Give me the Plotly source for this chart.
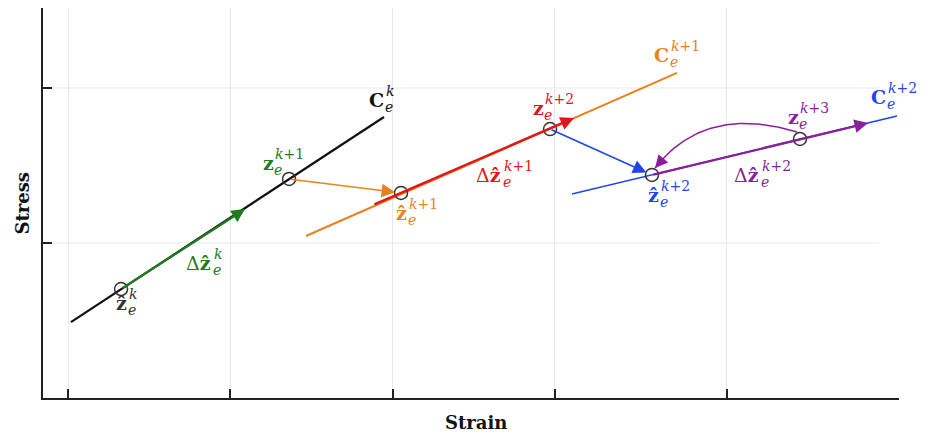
import numpy as np
import plotly.graph_objects as go

# ---------------- data (schematic units) ----------------
# constitutive lines C_e^k, C_e^{k+1}, C_e^{k+2}
line_x0 = [0.018, 1.466, 3.105]
line_y0 = [-0.510, 0.045, 0.316]
line_x1 = [1.947, 3.752, 5.108]
line_y1 = [0.813, 1.097, 0.819]

# state points (circles): zhat^k, z^{k+1}, zhat^{k+1}, z^{k+2}, zhat^{k+2}, z^{k+3}
pt_x = [0.327, 1.362, 2.052, 2.970, 3.598, 4.510]
pt_y = [-0.297, 0.413, 0.323, 0.735, 0.439, 0.671]

# straight arrows: Δẑ^k, projection k+1, Δẑ^{k+1}, projection k+2, Δẑ^{k+2}
arrow_x0 = [0.327, 1.362, 1.879, 2.970, 3.598]
arrow_y0 = [-0.297, 0.413, 0.245, 0.735, 0.439]
arrow_x1 = [1.091, 2.052, 3.118, 3.598, 4.929]
arrow_y1 = [0.219, 0.323, 0.806, 0.439, 0.774]

# curved return arrow z^{k+3} -> zhat^{k+2} (start, control, end)
curve_x = [4.492, 3.925, 3.617]
curve_y = [0.716, 0.897, 0.484]

# labels
label_main = ["ẑ", "Δẑ", "z", "C", "ẑ", "Δẑ", "z", "C", "ẑ", "Δẑ", "z", "C"]
label_sup = ["k", "k", "k+1", "k", "k+1", "k+1", "k+2", "k+1", "k+2", "k+2", "k+3", "k+2"]
label_x = [0.290, 0.721, 1.195, 1.848, 2.015, 2.508, 2.859, 3.604, 3.567, 4.097, 4.430, 4.941]
label_y = [-0.419, -0.161, 0.484, 0.890, 0.161, 0.406, 0.839, 1.181, 0.277, 0.406, 0.781, 0.910]

x_ticks = [0, 1, 2, 3, 4.06]
y_ticks = [0, 1]

# ---------------- styles ----------------
BLACK = "#111111"
GREEN = "#1e7b1e"
ORANGE = "#e8821e"
RED = "#e0161a"
BLUE = "#1f45ee"
PURPLE = "#8a1f9a"
line_colors = [BLACK, ORANGE, BLUE]
line_widths = [2.2, 2.0, 1.6]
arrow_colors = [GREEN, ORANGE, RED, BLUE, PURPLE]
arrow_widths = [2.2, 1.5, 2.4, 1.5, 2.2]
arrow_std = [0, 6, 0, 6, 0]
label_colors = ["#333333", GREEN, GREEN, BLACK, ORANGE, RED, RED, ORANGE, BLUE, PURPLE, PURPLE, BLUE]
main_width = {"ẑ": 12, "z": 11, "C": 16, "Δẑ": 27}
FONT = "DejaVu Serif"
MAIN_SIZE = 19
SCRIPT_SIZE = 14

fig = go.Figure()

for i in range(len(line_x0)):
    fig.add_trace(go.Scatter(x=[line_x0[i], line_x1[i]], y=[line_y0[i], line_y1[i]],
                             mode="lines", line=dict(color=line_colors[i], width=line_widths[i]),
                             showlegend=False, hoverinfo="skip"))

# curved arrow as quadratic Bezier
t = np.linspace(0, 1, 60)
cx = (1 - t) ** 2 * curve_x[0] + 2 * t * (1 - t) * curve_x[1] + t ** 2 * curve_x[2]
cy = (1 - t) ** 2 * curve_y[0] + 2 * t * (1 - t) * curve_y[1] + t ** 2 * curve_y[2]
fig.add_trace(go.Scatter(x=cx, y=cy, mode="lines", line=dict(color=PURPLE, width=1.5),
                         showlegend=False, hoverinfo="skip"))

fig.add_trace(go.Scatter(x=pt_x, y=pt_y, mode="markers",
                         marker=dict(symbol="circle-open", size=13, color="#333333",
                                     line=dict(width=1.5, color="#333333")),
                         showlegend=False, hoverinfo="skip", cliponaxis=False))

ann = []
for i in range(len(arrow_x0)):
    ann.append(dict(x=arrow_x1[i], y=arrow_y1[i], ax=arrow_x0[i], ay=arrow_y0[i],
                    xref="x", yref="y", axref="x", ayref="y", text="", showarrow=True,
                    arrowhead=2, arrowwidth=arrow_widths[i], arrowsize=2.7 / arrow_widths[i],
                    arrowcolor=arrow_colors[i], standoff=arrow_std[i]))
# curve arrow head
ann.append(dict(x=cx[-1], y=cy[-1], ax=cx[-6], ay=cy[-6], xref="x", yref="y", axref="x", ayref="y",
                text="", showarrow=True, arrowhead=2, arrowwidth=1.5, arrowsize=1.7,
                arrowcolor=PURPLE))

for i in range(len(label_main)):
    m = label_main[i]
    col = label_colors[i]
    w = main_width[m]
    if m == "C":
        main_txt = "<b>C</b>"
    elif "ẑ" in m:
        main_txt = m.replace("ẑ", "<b>ẑ</b>")
    else:
        main_txt = "<b>z</b>"
    ann.append(dict(x=label_x[i], y=label_y[i], xref="x", yref="y", text=main_txt, showarrow=False,
                    xanchor="left", yanchor="middle", yshift=5, borderpad=0,
                    font=dict(family=FONT, size=MAIN_SIZE, color=col)))
    sup = label_sup[i].replace("k", "<i>k</i>")
    ann.append(dict(x=label_x[i], y=label_y[i], xref="x", yref="y", text=sup, showarrow=False,
                    xanchor="left", yanchor="middle", xshift=w + 1, yshift=14, borderpad=0,
                    font=dict(family=FONT, size=SCRIPT_SIZE, color=col)))
    ann.append(dict(x=label_x[i], y=label_y[i], xref="x", yref="y", text="<i>e</i>", showarrow=False,
                    xanchor="left", yanchor="middle", xshift=w, yshift=-2, borderpad=0,
                    font=dict(family=FONT, size=SCRIPT_SIZE, color=col)))

# axis titles
ann.append(dict(x=(476 - 43) / 856, y=-0.062, xref="paper", yref="paper", text="<b>Strain</b>",
                showarrow=False, xanchor="center", yanchor="middle",
                font=dict(family=FONT, size=18, color="#111111")))
ann.append(dict(x=-0.025, y=(398 - 203) / 390, xref="paper", yref="paper", text="<b>Stress</b>",
                showarrow=False, xanchor="center", yanchor="middle", textangle=-90,
                font=dict(family=FONT, size=18, color="#111111")))

shapes = []
for yv in y_ticks:
    shapes.append(dict(type="line", xref="x", yref="y", x0=-0.154, x1=5.0, y0=yv, y1=yv,
                       line=dict(color="#e8e8e8", width=1), layer="below"))

fig.update_layout(
    width=930, height=436,
    margin=dict(l=43, r=31, t=8, b=38),
    plot_bgcolor="white", paper_bgcolor="white",
    annotations=ann, shapes=shapes,
    xaxis=dict(range=[-0.154, 5.120], tickvals=x_ticks, showticklabels=False,
               ticks="inside", ticklen=9, tickwidth=1.5, tickcolor="#222222",
               showgrid=True, gridcolor="#e8e8e8", gridwidth=1,
               showline=True, linecolor="#222222", linewidth=1.8, zeroline=False, fixedrange=True),
    yaxis=dict(range=[-1.0, 1.516], tickvals=y_ticks, showticklabels=False,
               ticks="inside", ticklen=9, tickwidth=1.5, tickcolor="#222222",
               showgrid=False, showline=True, linecolor="#222222", linewidth=1.8,
               zeroline=False, fixedrange=True),
)

fig.write_html("out.html")
